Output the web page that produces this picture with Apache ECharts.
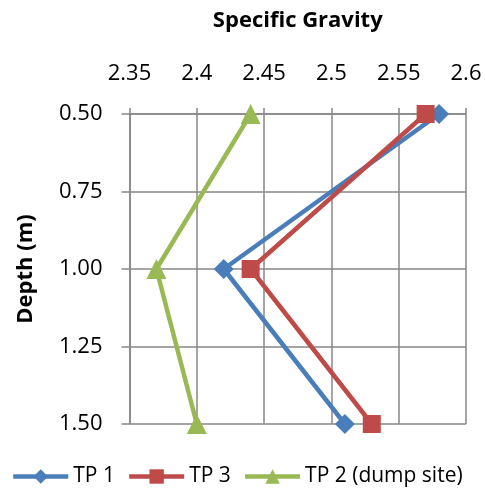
<!DOCTYPE html>
<html><head><meta charset="utf-8">
<script src="https://cdn.jsdelivr.net/npm/echarts@6/dist/echarts.min.js"></script>
<style>html,body{margin:0;padding:0;background:#fff}#c{width:485px;height:489px}</style>
</head><body><div id="c"></div>
<script>
const depths = [0.5, 1.0, 1.5];
const tp1 = [2.58, 2.42, 2.51];
const tp3 = [2.57, 2.44, 2.53];
const tp2 = [2.44, 2.37, 2.40];
const seriesNames = ['TP 1', 'TP 3', 'TP 2 (dump site)'];
const colors = ['#4A7EBB', '#BE4B48', '#98B954'];
const symbols = ['diamond', 'rect', 'triangle'];
const values = [tp1, tp3, tp2];
const FONT = 'Open Sans';
const gray = '#878787';

const chart = echarts.init(document.getElementById('c'));
chart.setOption({
  animation: false,
  grid: { left: 129.5, right: 19, top: 114, bottom: 65 },
  legend: {
    top: 461, left: 6, width: 479, padding: [5, 0, 5, 5],
    itemWidth: 55, itemHeight: 18, itemGap: 12,
    lineStyle: { width: 4.5 },
    textStyle: { fontSize: 21, color: '#000', fontFamily: FONT },
    data: seriesNames
  },
  xAxis: {
    type: 'value', position: 'top',
    min: 2.35, max: 2.6, interval: 0.05,
    name: 'Specific Gravity', nameLocation: 'middle', nameGap: 82,
    nameTextStyle: { fontSize: 22, fontWeight: 'bold', color: '#000', fontFamily: FONT },
    axisLine: { show: true, lineStyle: { color: gray, width: 1.5 } },
    axisTick: { show: true, length: 6, lineStyle: { color: gray, width: 1.5 } },
    axisLabel: { fontSize: 22, color: '#000', margin: 29, fontFamily: FONT,
      formatter: v => String(parseFloat(v.toFixed(2))) },
    splitLine: { show: true, lineStyle: { color: gray, width: 1.5 } }
  },
  yAxis: {
    type: 'value', inverse: true,
    min: 0.5, max: 1.5, interval: 0.25,
    name: 'Depth (m)', nameLocation: 'middle', nameGap: 93,
    nameTextStyle: { fontSize: 22, fontWeight: 'bold', color: '#000', fontFamily: FONT },
    axisLine: { show: true, lineStyle: { color: gray, width: 1.5 } },
    axisTick: { show: true, length: 8, lineStyle: { color: gray, width: 1.5 } },
    axisLabel: { fontSize: 22, color: '#000', margin: 27, fontFamily: FONT,
      formatter: v => v.toFixed(2) },
    splitLine: { show: true, lineStyle: { color: gray, width: 1.5 } }
  },
  series: seriesNames.map((n, i) => ({
    name: n, type: 'line',
    data: values[i].map((x, j) => [x, depths[j]]),
    symbol: symbols[i], symbolSize: i === 1 ? 18 : 20,
    showAllSymbol: true,
    lineStyle: { color: colors[i], width: 4.5 },
    itemStyle: { color: colors[i] },
    color: colors[i]
  }))
});
</script></body></html>
